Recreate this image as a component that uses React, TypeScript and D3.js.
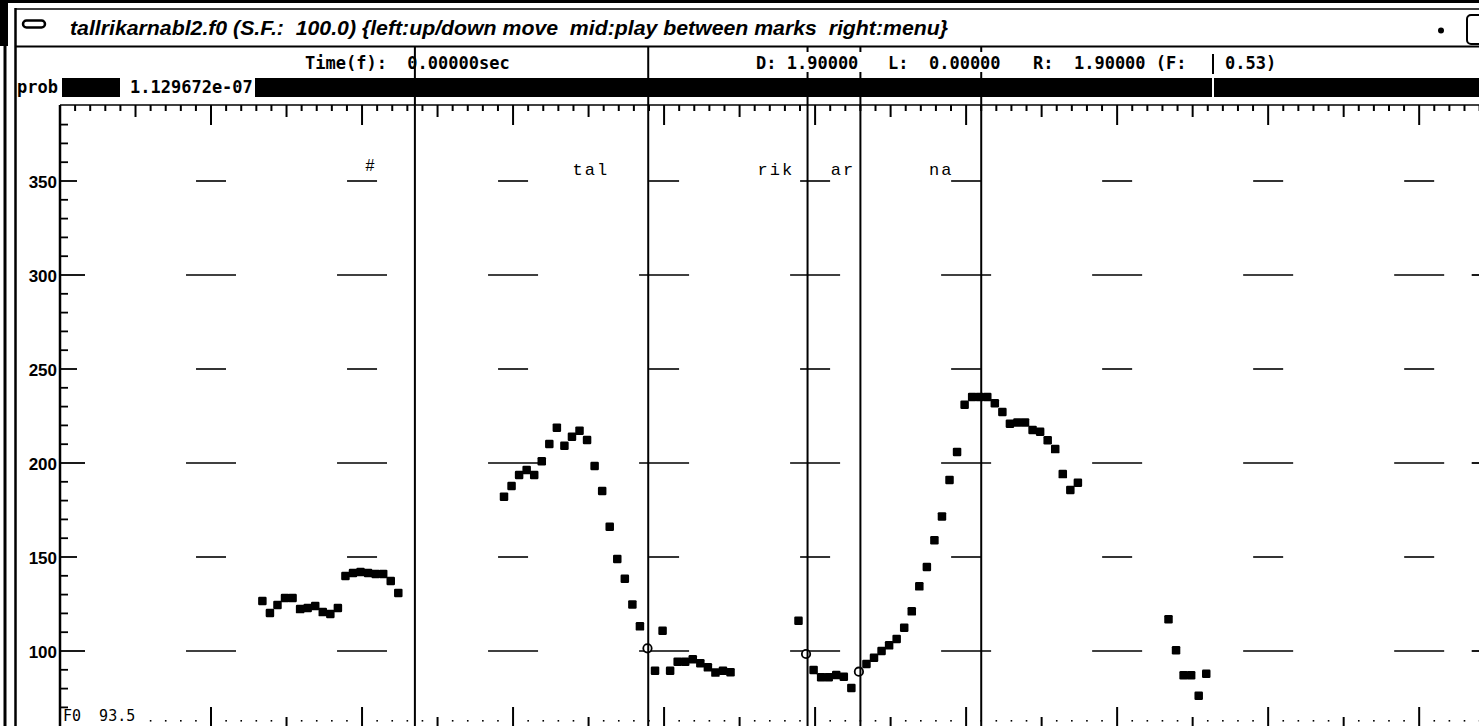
import React from "react";
import * as d3 from "d3";

const W = 1479;
const H = 726;

// F0 track: frame index (100 frames / s) and F0 in Hz
const f0Frames = [
  27, 28, 29, 30, 31, 32, 33, 34, 35, 36, 37, 38, 39, 40, 41, 42, 43, 44, 45,
  59, 60, 61, 62, 63, 64, 65, 66, 67, 68, 69, 70, 71, 72, 73, 74, 75, 76, 77, 78, 79, 80, 81, 82, 83, 84, 85, 86, 87, 88, 89,
  98, 99, 100, 101, 102, 103, 104, 105, 106, 107, 108, 109, 110, 111, 112, 113, 114, 115, 116, 117, 118, 119, 120, 121, 122, 123, 124, 125, 126, 127, 128, 129, 130, 131, 132, 133, 134, 135,
  147, 148, 149, 150, 151, 152,
];
const f0Values = [
  126.6, 120.2, 124.5, 128.2, 128.2, 122.3, 122.9, 123.9, 120.7, 119.7, 122.9, 139.9, 141.5, 142.0, 141.5, 141.0, 141.0, 137.2, 130.9,
  182.1, 187.8, 193.6, 196.3, 193.6, 200.9, 210.1, 218.8, 209.2, 214.0, 217.2, 212.2, 198.4, 185.1, 166.1, 148.9, 138.4, 124.8, 113.1, 101.4, 89.5, 110.8, 89.5, 94.3, 94.3, 95.6, 93.5, 91.3, 88.5, 89.5, 88.7,
  116.1, 98.4, 89.9, 86.0, 86.0, 87.2, 86.3, 80.3, 89.0, 93.1, 96.4, 100.0, 103.0, 106.4, 112.4, 121.1, 134.4, 144.7, 158.9, 171.6, 191.0, 205.9, 231.0, 235.1, 235.1, 235.1, 231.8, 227.1, 220.9, 221.6, 221.6, 217.6, 216.6, 212.1, 207.4, 194.1, 185.6, 189.5,
  116.9, 100.4, 87.1, 87.1, 76.2, 87.9,
];
const hollowFrames = [78, 99, 106];

// segment marks (s) and labels
const boundaryTimes = [0.47, 0.779, 0.99, 1.06, 1.22];
const headerBoundaries = [0.47, 0.779];
const segmentLabels = ["#", "tal", "rik", "ar", "na"];
const labelTimes = [0.41, 0.703, 0.948, 1.037, 1.167];

// axis
const yMajorTicks = [100, 150, 200, 250, 300, 350];
const yMinorTicks = d3.range(70, 390, 10);
const duration = 1.9;
const frameRate = 100;

const MONO = "'DejaVu Sans Mono', 'Liberation Mono', monospace";
const SANS = "'Liberation Sans', Arial, sans-serif";

export default function App() {
  const x = d3.scaleLinear().domain([0, duration]).range([60, 60 + duration * 755.1]);
  const y = d3.scaleLinear().domain([100, 350]).range([651, 181]);

  const rulerTicks = d3.range(0, Math.round(duration / 0.02) + 1).map((i) => ({
    t: i * 0.02,
    kind: i % 10 === 0 ? 2 : i % 5 === 0 ? 1 : 0,
  }));
  const majorTimes = rulerTicks.filter((d) => d.kind === 2 && d.t > 0).map((d) => d.t);
  const rightAxisX = x(duration) + 2;
  const plotTop = 105;
  const axisX = x(0);

  const pts = f0Frames.map((f, i) => ({ f, t: f / frameRate, v: f0Values[i] }));
  const sq = 8.5;
  const off = -1.5;

  return (
    <svg width={W} height={H} style={{ display: "block", position: "absolute", left: 0, top: 0, background: "#fff" }}>
      <rect x={0} y={0} width={W} height={H} fill="#fff" />
      {/* window frame */}
      <rect x={0} y={0} width={W} height={3} fill="#000" />
      <rect x={0} y={0} width={8} height={46} fill="#000" />
      <line x1={5} y1={46} x2={5} y2={H} stroke="#000" strokeWidth={3} />
      <line x1={15.5} y1={8} x2={15.5} y2={H} stroke="#000" strokeWidth={2.5} />
      <line x1={15} y1={9} x2={W} y2={9} stroke="#000" strokeWidth={1.5} />
      <line x1={15} y1={46.5} x2={W} y2={46.5} stroke="#000" strokeWidth={2} />
      {/* title bar */}
      <rect x={23} y={20.5} width={22} height={7} rx={3.5} fill="#fff" stroke="#000" strokeWidth={2.5} />
      <text x={70} y={35} fontFamily={SANS} fontWeight="bold" fontStyle="italic" fontSize={21} textLength={878} lengthAdjust="spacingAndGlyphs" style={{ whiteSpace: "pre" }}>
        {"tallrikarnabl2.f0 (S.F.:  100.0) {left:up/down move  mid:play between marks  right:menu}"}
      </text>
      <circle cx={1441} cy={30.5} r={3} fill="#000" />
      <rect x={1467} y={15} width={30} height={29} rx={4} fill="#fff" stroke="#000" strokeWidth={2} />

      {/* info row */}
      <text x={305} y={69} fontFamily={MONO} fontSize={17} fontWeight="bold" style={{ whiteSpace: "pre" }}>
        {"Time(f):  0.00000sec"}
      </text>
      <text x={756} y={69} fontFamily={MONO} fontSize={17} fontWeight="bold" style={{ whiteSpace: "pre" }}>
        {"D: 1.90000"}
      </text>
      <text x={888} y={69} fontFamily={MONO} fontSize={17} fontWeight="bold" style={{ whiteSpace: "pre" }}>
        {"L:  0.00000"}
      </text>
      <text x={1033} y={69} fontFamily={MONO} fontSize={17} fontWeight="bold" style={{ whiteSpace: "pre" }}>
        {"R:  1.90000 (F:"}
      </text>
      <text x={1225} y={69} fontFamily={MONO} fontSize={17} fontWeight="bold" style={{ whiteSpace: "pre" }}>
        {"0.53)"}
      </text>
      <line x1={1213} y1={54} x2={1213} y2={74} stroke="#000" strokeWidth={2} />
      {boundaryTimes
        .filter((t) => !headerBoundaries.includes(t))
        .map((t, i) => (
          <g key={"ht" + i}>
            <line x1={x(t)} y1={47} x2={x(t)} y2={52} stroke="#000" strokeWidth={2} />
            <line x1={x(t)} y1={72} x2={x(t)} y2={78} stroke="#000" strokeWidth={2} />
          </g>
        ))}

      {/* prob bar */}
      <text x={17} y={93} fontFamily={MONO} fontSize={17} fontWeight="bold">prob</text>
      <rect x={62} y={78} width={W - 62} height={19} fill="#000" />
      <rect x={120} y={78} width={135} height={19} fill="#fff" />
      <text x={130} y={93} fontFamily={MONO} fontSize={17} fontWeight="bold">1.129672e-07</text>
      <line x1={1213} y1={78} x2={1213} y2={97} stroke="#fff" strokeWidth={2} />

      {/* top ruler */}
      <line x1={axisX} y1={plotTop} x2={W} y2={plotTop} stroke="#000" strokeWidth={1.5} />
      {rulerTicks.map((d, i) => (
        <line key={"rt" + i} x1={x(d.t)} y1={plotTop} x2={x(d.t)} y2={plotTop + (d.kind === 2 ? 20 : d.kind === 1 ? 12 : 6)} stroke="#000" strokeWidth={2} />
      ))}

      {/* left axis */}
      <line x1={axisX} y1={plotTop} x2={axisX} y2={H} stroke="#000" strokeWidth={2.5} />
      {yMinorTicks.map((v) => (
        <line key={"ym" + v} x1={axisX} y1={y(v)} x2={axisX + (v % 100 === 0 ? 25 : v % 50 === 0 ? 17 : 8)} y2={y(v)} stroke="#000" strokeWidth={1.8} />
      ))}
      {yMajorTicks.map((v) => (
        <text key={"yl" + v} x={57} y={y(v) + 6.5} textAnchor="end" fontFamily={SANS} fontWeight="bold" fontSize={17}>
          {v}
        </text>
      ))}
      {/* right axis (mostly off-screen) */}
      {yMinorTicks.map((v) => (
        <line key={"yr" + v} x1={rightAxisX} y1={y(v)} x2={rightAxisX - (v % 100 === 0 ? 25 : v % 50 === 0 ? 17 : 8)} y2={y(v)} stroke="#000" strokeWidth={1.8} />
      ))}

      {/* grid dashes */}
      {majorTimes.map((t) =>
        yMajorTicks.map((v) => {
          const half = v % 100 === 0 ? 25 : 15;
          return <line key={"g" + t + "_" + v} x1={x(t) - half} y1={y(v)} x2={x(t) + half} y2={y(v)} stroke="#000" strokeWidth={1.6} />;
        })
      )}

      {/* bottom axis */}
      {rulerTicks.map((d, i) =>
        d.kind === 0 ? (
          x(d.t) > 150 ? <rect key={"bd" + i} x={x(d.t) - 0.8} y={720} width={1.6} height={1.6} fill="#000" /> : null
        ) : (
          x(d.t) > 150 ? (
            <line key={"bt" + i} x1={x(d.t)} y1={d.kind === 2 ? 707 : 717} x2={x(d.t)} y2={H} stroke="#000" strokeWidth={2} />
          ) : null
        )
      )}
      <text x={63} y={721} fontFamily={MONO} fontSize={15} style={{ whiteSpace: "pre" }}>
        {"F0  93.5"}
      </text>

      {/* F0 points */}
      {pts.map((p) =>
        hollowFrames.includes(p.f) ? (
          <circle key={"p" + p.f} cx={x(p.t) + off} cy={y(p.v)} r={4.2} fill="#fff" stroke="#000" strokeWidth={1.8} />
        ) : (
          <rect key={"p" + p.f} x={x(p.t) + off - sq / 2} y={y(p.v) - sq / 2} width={sq} height={sq} rx={1.2} fill="#000" />
        )
      )}

      {/* segment boundaries */}
      {boundaryTimes.map((t, i) => (
        <line key={"b" + i} x1={x(t)} y1={headerBoundaries.includes(t) ? 47 : 97} x2={x(t)} y2={H} stroke="#000" strokeWidth={2} />
      ))}
      {segmentLabels.map((s, i) =>
        s === "#" ? (
          <text key={"l" + i} x={x(labelTimes[i])} y={171} textAnchor="middle" fontFamily={SANS} fontStyle="italic" fontSize={16}>
            {s}
          </text>
        ) : (
          <text key={"l" + i} x={x(labelTimes[i])} y={175} textAnchor="middle" fontFamily="'Liberation Mono', monospace" fontSize={17} letterSpacing={2}>
            {s}
          </text>
        )
      )}
    </svg>
  );
}
